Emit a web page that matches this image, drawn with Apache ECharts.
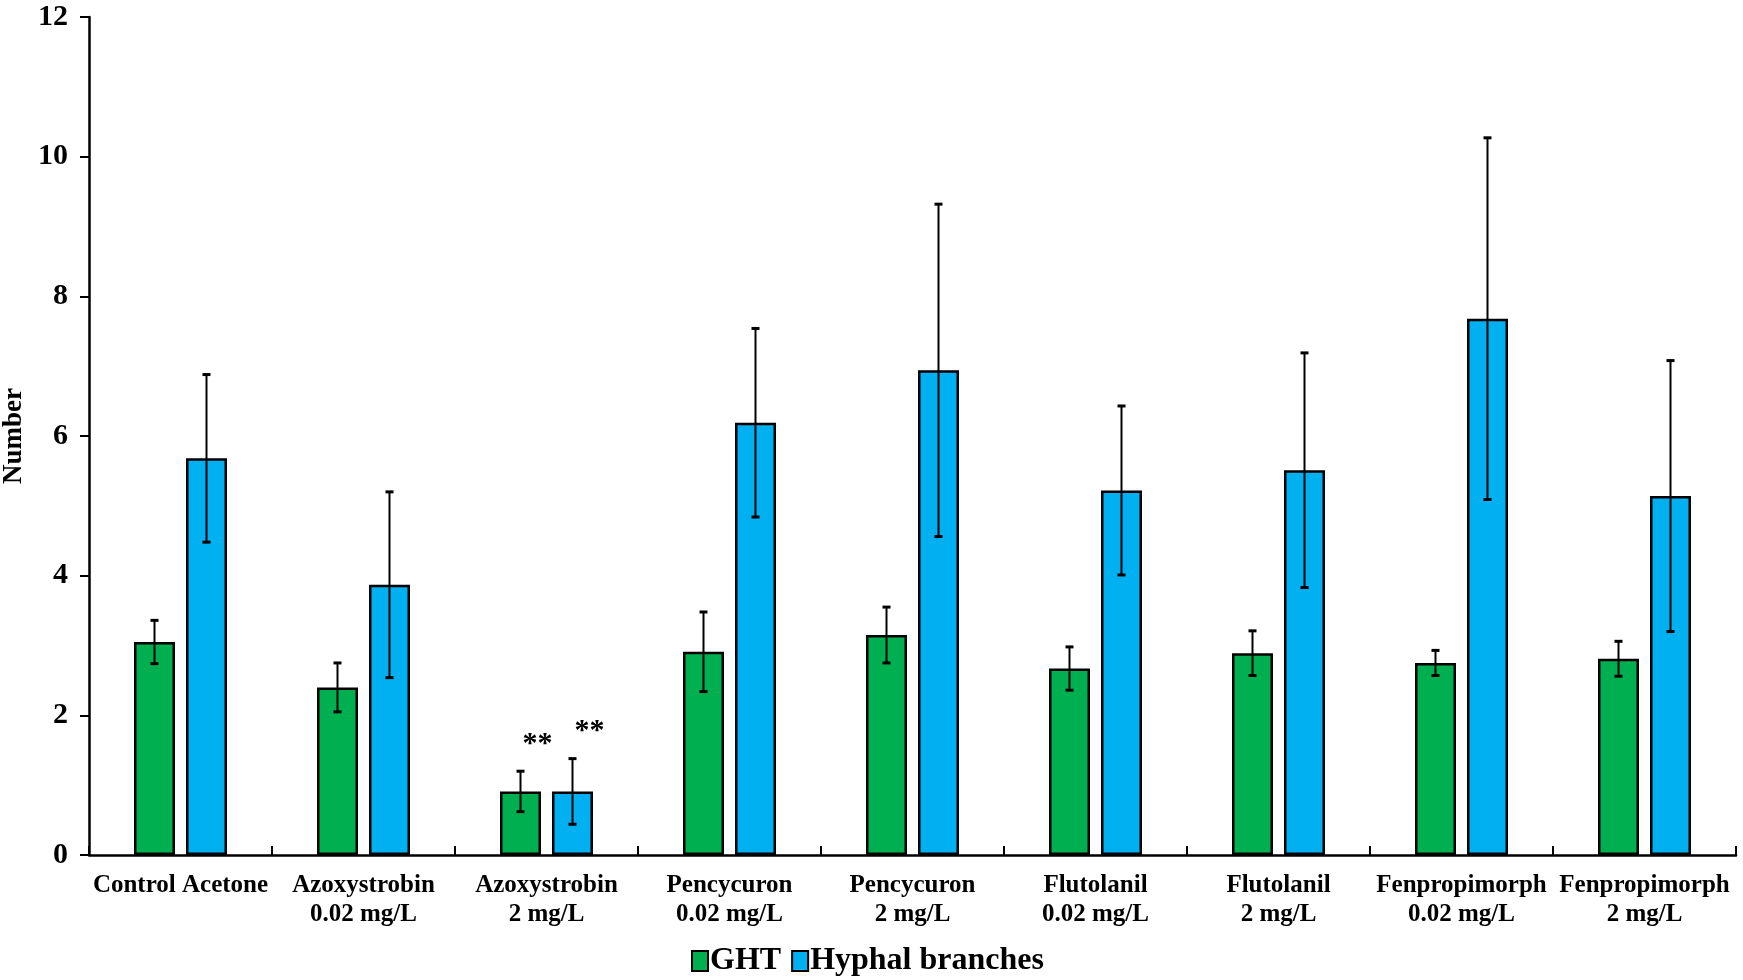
<!DOCTYPE html>
<html>
    <head>
        <meta charset="utf-8">
        <title>GHT and hyphal branches</title>
        <script src="https://cdn.jsdelivr.net/npm/echarts@6/dist/echarts.min.js"></script>
        <style>
            html, body { margin: 0; padding: 0; background: #fff; }
            #chart1 { width: 1743px; height: 980px; }
        </style>
    </head>
    <body>
        <div id="chart1"></div>
        <script type="text/javascript">
            // data
            var categories = ['Control Acetone', 'Azoxystrobin\n0.02 mg/L', 'Azoxystrobin\n2 mg/L',
                'Pencycuron\n0.02 mg/L', 'Pencycuron\n2 mg/L', 'Flutolanil\n0.02 mg/L', 'Flutolanil\n2 mg/L',
                'Fenpropimorph\n0.02 mg/L', 'Fenpropimorph\n2 mg/L'];
            var ghtMean = [3.05, 2.40, 0.91, 2.91, 3.15, 2.67, 2.89, 2.75, 2.81];
            var ghtErr = [0.31, 0.35, 0.29, 0.57, 0.40, 0.31, 0.32, 0.18, 0.25];
            var hyphMean = [5.68, 3.87, 0.91, 6.19, 6.94, 5.22, 5.51, 7.68, 5.14];
            var hyphErr = [1.20, 1.33, 0.47, 1.35, 2.38, 1.21, 1.68, 2.59, 1.94];
            var ghtSig = ['', '', '**', '', '', '', '', '', ''];
            var hyphSig = ['', '', '**', '', '', '', '', '', ''];
            var yTicks = [0, 2, 4, 6, 8, 10, 12];

            var font = 'Liberation Serif';
            var barW = 41;
            var gapPx = 11;

            function errData(mean, err, sig) {
                return mean.map(function (m, i) {
                    return [i, m - err[i], m + err[i], sig[i]];
                });
            }

            function errSeries(name, mean, err, sig, dx) {
                return {
                    name: name + ' err',
                    type: 'custom',
                    z: 5,
                    silent: true,
                    data: errData(mean, err, sig),
                    renderItem: function (params, api) {
                        var lo = api.coord([api.value(0), api.value(1)]);
                        var hi = api.coord([api.value(0), api.value(2)]);
                        var x = lo[0] + dx;
                        var cap = 4;
                        var kids = [
                            { type: 'line', shape: { x1: x, y1: lo[1], x2: x, y2: hi[1] }, style: { stroke: '#000', lineWidth: 2 } },
                            { type: 'line', shape: { x1: x - cap, y1: hi[1], x2: x + cap, y2: hi[1] }, style: { stroke: '#000', lineWidth: 3 } },
                            { type: 'line', shape: { x1: x - cap, y1: lo[1], x2: x + cap, y2: lo[1] }, style: { stroke: '#000', lineWidth: 3 } }
                        ];
                        var s = sig[params.dataIndex];
                        if (s) {
                            kids.push({ type: 'text', style: { x: x + 17, y: hi[1] - 12, text: s, align: 'center',
                                verticalAlign: 'bottom', font: 'bold 30px "' + font + '"', fill: '#000' } });
                        }
                        return { type: 'group', children: kids };
                    }
                };
            }

            var myChart = echarts.init(document.getElementById('chart1'));
            myChart.setOption({
                animation: false,
                backgroundColor: '#fff',
                textStyle: { fontFamily: font, fontWeight: 'bold', color: '#000' },
                grid: { left: 89, right: 7, top: 17, bottom: 125, containLabel: false, outerBoundsMode: 'none' },
                legend: {
                    data: ['GHT', 'Hyphal branches'],
                    left: 686, top: 940,
                    itemWidth: 16, itemHeight: 20, itemGap: 10,
                    icon: 'rect',
                    itemStyle: { borderColor: '#000', borderWidth: 2 },
                    textStyle: { fontFamily: font, fontWeight: 'bold', fontSize: 32, color: '#000', padding: [0, 0, 0, -3] }
                },
                xAxis: {
                    type: 'category',
                    data: categories,
                    axisLine: { lineStyle: { color: '#000', width: 2.5 } },
                    axisTick: { show: true, inside: true, length: 9, lineStyle: { color: '#000', width: 2 } },
                    axisLabel: { fontFamily: font, fontWeight: 'bold', fontSize: 25, color: '#000',
                        margin: 16, lineHeight: 29, interval: 0 },
                    splitLine: { show: false }
                },
                yAxis: {
                    type: 'value',
                    min: yTicks[0], max: yTicks[yTicks.length - 1], interval: 2,
                    name: 'Number',
                    nameLocation: 'middle',
                    nameGap: 56,
                    nameTextStyle: { fontFamily: font, fontWeight: 'bold', fontSize: 27, color: '#000' },
                    axisLine: { show: true, lineStyle: { color: '#000', width: 2.5 } },
                    axisTick: { show: true, length: 9, lineStyle: { color: '#000', width: 2 } },
                    axisLabel: { fontFamily: font, fontWeight: 'bold', fontSize: 30, color: '#000', margin: 21 },
                    splitLine: { show: false }
                },
                series: [
                    {
                        name: 'GHT', type: 'bar', data: ghtMean,
                        barWidth: barW, barGap: (gapPx / barW * 100) + '%',
                        itemStyle: { color: '#00B050', borderColor: '#000', borderWidth: 2.5 }
                    },
                    {
                        name: 'Hyphal branches', type: 'bar', data: hyphMean,
                        barWidth: barW,
                        itemStyle: { color: '#00B0F0', borderColor: '#000', borderWidth: 2.5 }
                    },
                    errSeries('GHT', ghtMean, ghtErr, ghtSig, -(barW + gapPx) / 2),
                    errSeries('Hyphal branches', hyphMean, hyphErr, hyphSig, (barW + gapPx) / 2)
                ]
            });
        </script>
    </body>
</html>
